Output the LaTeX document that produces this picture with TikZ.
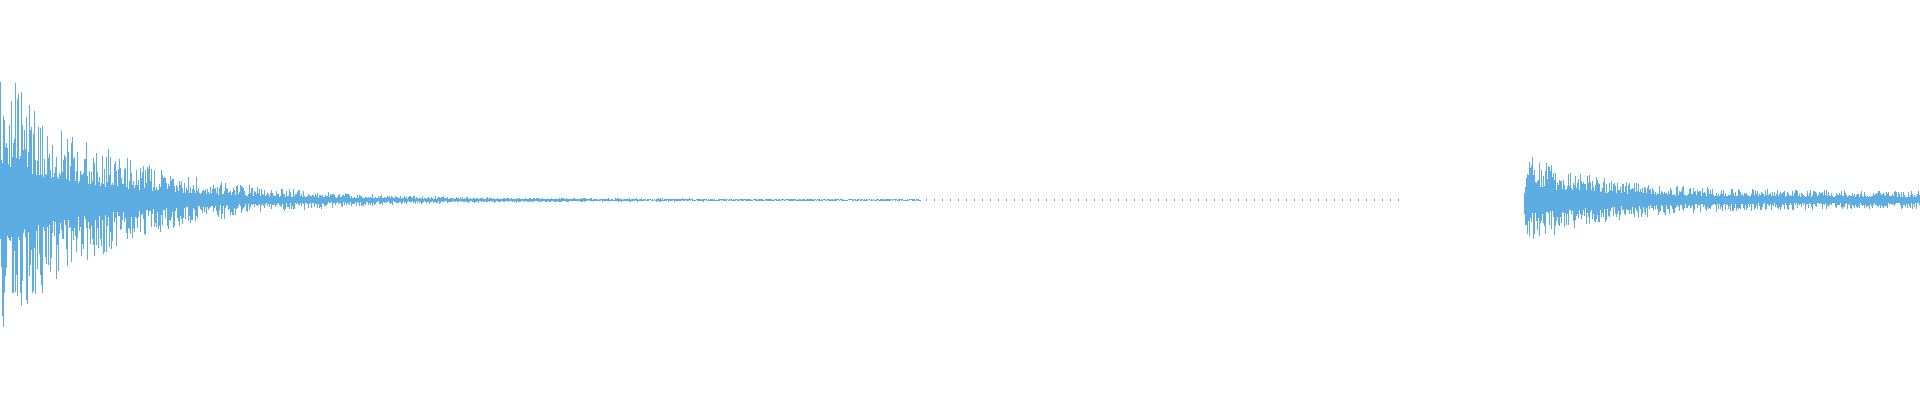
\documentclass[tikz,border=0pt]{standalone}
\definecolor{wave}{RGB}{93,173,226}
\begin{document}
\begin{tikzpicture}[x=0.01cm,y=0.01cm,wv/.style={draw=wave,line width=0.009cm}]
\useasboundingbox (0,0) rectangle (1920,400);
\pgfmathsetseed{7}
\foreach \i in {0,...,920}{
  \pgfmathsetmacro{\A}{135*exp(-\i/110)+1.3}
  \pgfmathsetmacro{\u}{\A*(0.25+0.75*rnd^1.5)}
  \pgfmathsetmacro{\d}{\A*(0.25+0.75*rnd^1.5)}
  \draw[wv] (\i,200+\u) -- (\i,200-\d);
}
\foreach \i in {926,934,...,1402}{
  \draw[wv] (\i,201) -- (\i,199);
}
\foreach \i in {1524,...,1920}{
  \pgfmathsetmacro{\A}{9+38*exp(-(\i-1524)/80)*min(1,(\i-1523)/4)}
  \pgfmathsetmacro{\u}{\A*(0.3+0.7*rnd^1.5)}
  \pgfmathsetmacro{\d}{\A*(0.3+0.7*rnd^1.5)}
  \draw[wv] (\i,200+\u) -- (\i,200-\d);
}
\end{tikzpicture}
\end{document}
